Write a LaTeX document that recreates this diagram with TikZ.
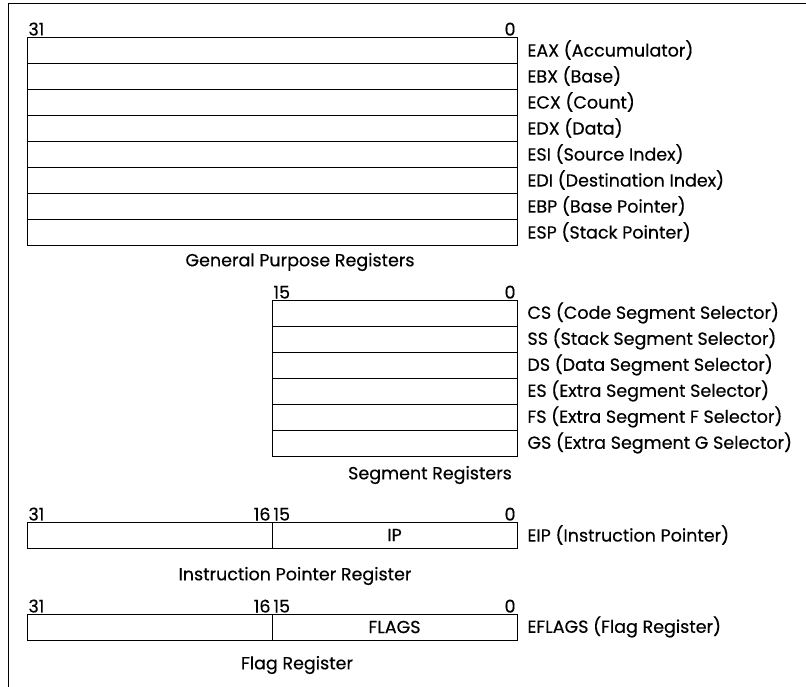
\documentclass[tikz,border=0pt]{standalone}
\usepackage{fontspec}
\setmainfont{Poppins}[FakeBold=0.4]
\usetikzlibrary{positioning}

\begin{document}
\begin{tikzpicture}[x=1pt, y=-1pt, line width=0.9pt,
    font=\fontsize{17.5}{20}\selectfont,
    reg/.style={draw, minimum height=26pt, inner sep=0pt, outer sep=0pt, anchor=north west},
    regname/.style={anchor=west, inner sep=0pt},
    bit/.style={inner sep=1pt},
    title/.style={inner sep=0pt}]
  \useasboundingbox (0,0) rectangle (806,687);
  % frame
  \draw (8,687) -- (8,3) -- (806,3);

  % general purpose registers
  \foreach \lab [count=\i] in {EAX (Accumulator), EBX (Base), ECX (Count), EDX (Data),
      ESI (Source Index), EDI (Destination Index), EBP (Base Pointer), ESP (Stack Pointer)}
    {\node[reg, minimum width=490pt] (gpr\i) at (27,{37+(\i-1)*26}) {};
     \node[regname, right=10pt of gpr\i.east] (gprname\i) {\lab};}
  \node[bit, above right] (gprhi) at (gpr1.north west) {31};
  \node[bit, above left] (gprlo) at (gpr1.north east) {0};
  \node[title] (gprtitle) at (300,262) {General Purpose Registers};

  % segment registers
  \foreach \lab [count=\i] in {CS (Code Segment Selector), SS (Stack Segment Selector),
      DS (Data Segment Selector), ES (Extra Segment Selector),
      FS (Extra Segment F Selector), GS (Extra Segment G Selector)}
    {\node[reg, minimum width=245pt] (seg\i) at (272,{300+(\i-1)*26}) {};
     \node[regname, right=10pt of seg\i.east] (segname\i) {\lab};}
  \node[bit, above right] (seghi) at (seg1.north west) {15};
  \node[bit, above left] (seglo) at (seg1.north east) {0};
  \node[title] (segtitle) at (430,475) {Segment Registers};

  % instruction pointer
  \node[reg, minimum width=245pt] (iphi) at (27,522) {};
  \node[reg, minimum width=245pt] (iplo) at (272,522) {IP};
  \node[regname, right=10pt of iplo.east] (ipname) {EIP (Instruction Pointer)};
  \node[bit, above right] (ipb31) at (iphi.north west) {31};
  \node[bit, above left] (ipb16) at (iphi.north east) {16};
  \node[bit, above right] (ipb15) at (iplo.north west) {15};
  \node[bit, above left] (ipb0) at (iplo.north east) {0};
  \node[title] (iptitle) at (295,576) {Instruction Pointer Register};

  % flags
  \node[reg, minimum width=245pt] (flhi) at (27,614) {};
  \node[reg, minimum width=245pt] (fllo) at (272,614) {FLAGS};
  \node[regname, right=10pt of fllo.east] (flname) {EFLAGS (Flag Register)};
  \node[bit, above right] (flb31) at (flhi.north west) {31};
  \node[bit, above left] (flb16) at (flhi.north east) {16};
  \node[bit, above right] (flb15) at (fllo.north west) {15};
  \node[bit, above left] (flb0) at (fllo.north east) {0};
  \node[title] (fltitle) at (297,665) {Flag Register};
\end{tikzpicture}
\end{document}
